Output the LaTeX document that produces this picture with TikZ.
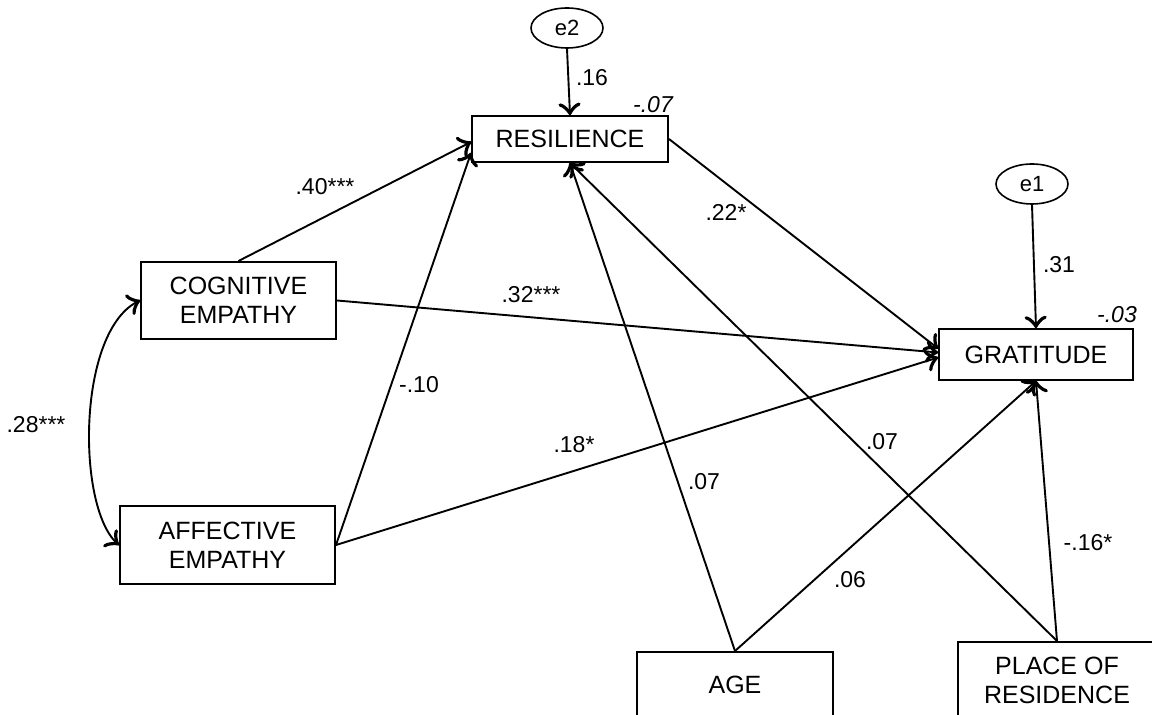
\documentclass[tikz,border=0pt]{standalone}
\usepackage{fontspec}
\setmainfont{Liberation Sans}
\usetikzlibrary{arrows,decorations.markings,shapes.geometric}
\tikzstyle{varbox} = [rectangle, inner sep=0pt, align=center, draw=black, line width=1pt, font=\fontsize{12.5}{14.5}\selectfont]
\tikzstyle{errnode} = [ellipse, inner sep=0pt, minimum width=36pt, minimum height=20pt, draw=black, line width=0.8pt, font=\fontsize{11}{13}\selectfont]
\tikzstyle{coef} = [inner sep=0pt, font=\fontsize{11.5}{13}\selectfont]

\begin{document}
\begin{tikzpicture}[x=0.5pt,y=-0.5pt]
        \tikzset{myptr/.style={line width=0.95pt,decoration={markings,mark=at position 1 with %
    {\arrow[scale=2.1]{to}}},postaction={decorate}}}
        \tikzset{mydblptr/.style={line width=0.95pt,decoration={markings,mark=at position 0 with %
    {\arrowreversed[scale=2.1]{to}},mark=at position 0.999 with {\arrow[scale=2.1]{to}}},postaction={decorate}}}
        \clip (0,0) rectangle (1152,715);

        % variables
        \node (res) [varbox, minimum width=98pt, minimum height=23pt] at (570,139) {RESILIENCE};
        \node (cog) [varbox, minimum width=97.5pt, minimum height=38.5pt] at (238.5,300.5) {COGNITIVE\\EMPATHY};
        \node (aff) [varbox, minimum width=107.5pt, minimum height=39pt] at (227.5,545) {AFFECTIVE\\EMPATHY};
        \node (grat) [varbox, minimum width=97pt, minimum height=25.5pt] at (1036,354.5) {GRATITUDE};
        \node (age) [varbox, minimum width=98pt, minimum height=33pt] at (735,685) {AGE};
        \node (place) [varbox, minimum width=99pt, minimum height=38pt] at (1057,680) {PLACE OF\\RESIDENCE};
        \node (e2) [errnode] at (567,28) {e2};
        \node (e1) [errnode] at (1032,184) {e1};

        % paths
        \draw [myptr] (e2.south) -- (res.north);
        \draw [myptr] (e1.south) -- (grat.north);
        \draw [myptr] (cog.north) -- ([yshift=-1.5pt]res.west);
        \draw [myptr] (aff.east) -- ([yshift=5pt]res.south west);
        \draw [myptr] (res.east) -- ([yshift=3pt]grat.west);
        \draw [myptr] (cog.east) -- ([yshift=1pt]grat.west);
        \draw [myptr] (aff.east) -- ([yshift=-1.5pt]grat.west);
        \draw [myptr] (age.north) -- (res.south);
        \draw [myptr] (place.north) -- (res.south);
        \draw [myptr] (age.north) -- (grat.south);
        \draw [myptr] (place.north) -- (grat.south);
        \draw [mydblptr] (cog.west) .. controls (76,328) and (76,512) .. (aff.west);

        % coefficients
        \node (c16) [coef] at (592,78) {.16};
        \node (r07) [coef] at (653,105) {\itshape -.07};
        \node (c40) [coef] at (325,187) {.40***};
        \node (c22) [coef] at (726,212) {.22*};
        \node (c32) [coef] at (531,295) {.32***};
        \node (c31) [coef] at (1059,265) {.31};
        \node (r03) [coef] at (1117,315) {\itshape -.03};
        \node (c28) [coef] at (36,425) {.28***};
        \node (c10) [coef] at (419,385) {-.10};
        \node (c18) [coef] at (574,445) {.18*};
        \node (c07a) [coef] at (704,482) {.07};
        \node (c07p) [coef] at (882,442) {.07};
        \node (c06) [coef] at (850,580) {.06};
        \node (c16p) [coef] at (1088,543) {-.16*};
    \end{tikzpicture}
\end{document}
